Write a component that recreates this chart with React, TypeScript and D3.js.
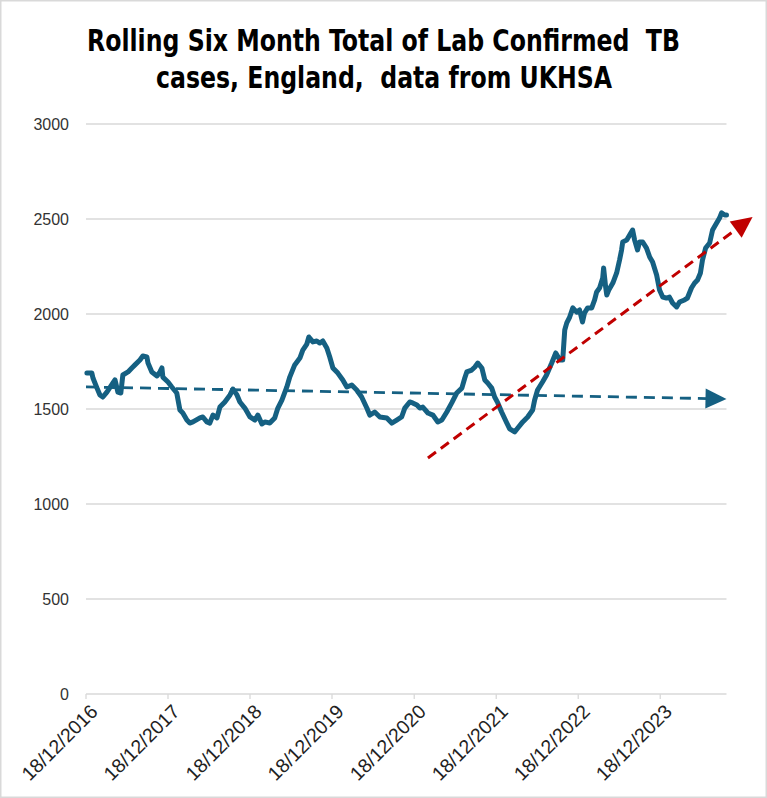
import React from "react";
import * as d3 from "d3";

const titleLines = ["Rolling Six Month Total of Lab Confirmed\u00a0\u00a0TB", "cases, England,\u00a0 data from UKHSA"];

const dates = [
  "2016-12-22","2017-01-13","2017-01-18","2017-02-05","2017-02-18","2017-03-03","2017-03-21","2017-04-17","2017-04-26","2017-05-09",
  "2017-05-22","2017-05-31","2017-06-23","2017-07-10","2017-07-24","2017-08-15","2017-08-28","2017-09-15","2017-09-20","2017-10-07",
  "2017-10-30","2017-11-12","2017-11-21","2017-11-25","2017-12-18","2018-01-04","2018-01-26","2018-02-09","2018-02-22","2018-03-12",
  "2018-03-25","2018-04-08","2018-05-09","2018-05-22","2018-06-09","2018-06-22","2018-07-06","2018-07-24","2018-08-06","2018-08-28",
  "2018-09-20","2018-10-03","2018-10-21","2018-11-03","2018-11-25","2018-12-18","2019-01-09","2019-01-22","2019-02-09","2019-02-22",
  "2019-03-16","2019-04-07","2019-04-21","2019-05-09","2019-05-31","2019-06-13","2019-07-05","2019-07-28","2019-08-10","2019-08-28",
  "2019-09-06","2019-09-24","2019-10-11","2019-10-25","2019-11-07","2019-11-25","2019-12-08","2019-12-22","2020-01-13","2020-02-04",
  "2020-02-22","2020-03-15","2020-04-06","2020-04-28","2020-05-21","2020-06-03","2020-06-25","2020-07-18","2020-08-18","2020-09-09",
  "2020-10-01","2020-10-23","2020-11-06","2020-11-28","2020-12-11","2020-12-30","2021-01-12","2021-01-25","2021-02-17","2021-03-11",
  "2021-04-02","2021-04-20","2021-05-12","2021-06-03","2021-06-25","2021-07-18","2021-07-31","2021-08-09","2021-08-31","2021-09-14",
  "2021-09-27","2021-10-15","2021-10-28","2021-11-10","2021-11-28","2021-12-11","2021-12-25","2022-01-11","2022-02-03","2022-02-16",
  "2022-03-10","2022-03-24","2022-04-15","2022-05-07","2022-05-29","2022-06-07","2022-06-20","2022-07-12","2022-07-30","2022-08-22",
  "2022-09-09","2022-09-27","2022-10-10","2022-10-19","2022-10-28","2022-11-10","2022-11-24","2022-12-11","2022-12-24","2023-01-06",
  "2023-01-15","2023-01-29","2023-02-16","2023-03-01","2023-03-10","2023-03-23","2023-04-06","2023-04-10","2023-04-19","2023-04-24",
  "2023-05-03","2023-05-21","2023-06-07","2023-06-20","2023-06-29","2023-07-04","2023-07-22","2023-08-04","2023-08-17","2023-08-26",
  "2023-09-08","2023-09-17","2023-10-01","2023-10-18","2023-11-01","2023-11-14","2023-12-02","2023-12-15","2023-12-29","2024-01-15",
  "2024-01-28","2024-02-11","2024-02-29","2024-03-13","2024-04-04","2024-04-17","2024-05-05","2024-05-19","2024-06-01","2024-06-14",
  "2024-06-23","2024-07-07","2024-07-25","2024-08-07","2024-08-25","2024-09-07","2024-09-16","2024-09-30","2024-10-08"
];

const values = [
  1689,1689,1663,1610,1574,1563,1589,1637,1653,1589,
  1584,1679,1695,1716,1732,1758,1779,1774,1742,1695,
  1674,1695,1716,1668,1642,1616,1584,1495,1479,1442,
  1426,1432,1453,1458,1432,1426,1468,1453,1510,1537,
  1574,1605,1574,1537,1505,1458,1442,1468,1421,1432,
  1426,1453,1505,1547,1616,1668,1732,1768,1810,1842,
  1879,1853,1858,1847,1858,1821,1774,1716,1689,1653,
  1616,1626,1600,1563,1505,1468,1484,1458,1453,1426,
  1442,1458,1505,1537,1532,1521,1505,1510,1479,1468,
  1432,1442,1484,1532,1584,1610,1663,1695,1705,1721,
  1742,1716,1653,1637,1610,1563,1532,1484,1426,1395,
  1379,1400,1432,1458,1495,1547,1600,1642,1679,1742,
  1795,1758,1758,1916,1953,1984,2032,2010,2021,1958,
  2005,2032,2032,2074,2116,2137,2189,2242,2142,2100,
  2126,2163,2216,2284,2337,2379,2389,2416,2442,2389,
  2337,2379,2379,2347,2300,2274,2205,2126,2089,2084,
  2089,2058,2037,2063,2074,2084,2137,2163,2179,2216,
  2284,2347,2374,2442,2479,2505,2532,2521,2521
];

const yTicks = [0, 500, 1000, 1500, 2000, 2500, 3000];
const xTickLabels = ["18/12/2016","18/12/2017","18/12/2018","18/12/2019","18/12/2020","18/12/2021","18/12/2022","18/12/2023"];
const xDomain = ["2016-12-18", "2024-10-08"];

const blueTrendDates = ["2016-12-18", "2024-10-08"];
const blueTrendValues = [1616, 1553];
const redTrendDates = ["2021-02-17", "2025-02-01"];
const redTrendValues = [1242, 2510];

const W = 767, H = 798;
const M = { left: 86, right: 767 - 726.5, top: 124, bottom: 798 - 694 };

const parse = d3.utcParse("%Y-%m-%d");
const parseTick = d3.utcParse("%d/%m/%Y");

function Arrow({ x1, y1, x2, y2, color, dash, width }: any) {
  const len = Math.hypot(x2 - x1, y2 - y1);
  const ux = (x2 - x1) / len, uy = (y2 - y1) / len;
  const hl = 21, hw = 10;
  const bx = x2 - ux * hl, by = y2 - uy * hl;
  const px = -uy, py = ux;
  const pts = [[x2, y2], [bx + px * hw, by + py * hw], [bx - px * hw, by - py * hw]];
  return (
    <g>
      <line x1={x1} y1={y1} x2={bx + ux * 2} y2={by + uy * 2} stroke={color} strokeWidth={width} strokeDasharray={dash} />
      <polygon points={pts.map(p => p.join(",")).join(" ")} fill={color} />
    </g>
  );
}

export default function App() {
  const x = d3.scaleUtc().domain(xDomain.map(d => parse(d)!)).range([M.left, W - M.right]);
  const y = d3.scaleLinear().domain([0, 3000]).range([H - M.bottom, M.top]);
  const data = dates.map((d, i) => ({ d: parse(d)!, v: values[i] }));
  const line = d3.line<any>().x(p => x(p.d)).y(p => y(p.v)).curve(d3.curveLinear);
  const xTicks = xTickLabels.map(t => parseTick(t)!);

  const blue = blueTrendDates.map((d, i) => [x(parse(d)!), y(blueTrendValues[i])]);
  const red = redTrendDates.map((d, i) => [x(parse(d)!), y(redTrendValues[i])]);

  return (
    <svg width={W} height={H} style={{ position: "absolute", left: 0, top: 0, background: "#fff" }}>
      <rect x={0.75} y={0.75} width={W - 1.5} height={H - 1.5} fill="#fff" stroke="#d9d9d9" strokeWidth={1.5} />
      <g fontFamily="'Liberation Sans Narrow', 'DejaVu Sans Condensed', 'Liberation Sans', sans-serif" fontWeight="bold" fontSize={30} fill="#000" textAnchor="middle">
        <text x={383.5} y={51} textLength={593} lengthAdjust="spacingAndGlyphs">{titleLines[0]}</text>
        <text x={384} y={88} textLength={456} lengthAdjust="spacingAndGlyphs">{titleLines[1]}</text>
      </g>
      {yTicks.map(t => (
        <g key={t}>
          {t > 0 && <line x1={M.left} x2={W - M.right} y1={y(t)} y2={y(t)} stroke="#d9d9d9" strokeWidth={1.3} />}
          <text x={69} y={y(t)} dy="0.35em" textAnchor="end" fontFamily="'Liberation Sans', Arial, sans-serif" fontSize={16} fill="#333">{t}</text>
        </g>
      ))}
      <line x1={M.left} x2={W - M.right} y1={y(0)} y2={y(0)} stroke="#d9d9d9" strokeWidth={1.3} />
      {xTicks.map((t, i) => (
        <g key={i} transform={`translate(${x(t)},${y(0)})`}>
          <line y1={0} y2={5} stroke="#d9d9d9" strokeWidth={1.3} />
          <text transform="translate(8,14) rotate(-45)" textAnchor="end" dy="0.35em" fontFamily="'Liberation Sans', Arial, sans-serif" fontSize={19.5} fill="#222">{xTickLabels[i]}</text>
        </g>
      ))}
      <path d={line(data)!} fill="none" stroke="#156082" strokeWidth={5} strokeLinejoin="round" strokeLinecap="round" />
      <Arrow x1={blue[0][0]} y1={blue[0][1]} x2={blue[1][0]} y2={blue[1][1]} color="#156082" dash="11,7" width={2.8} />
      <Arrow x1={red[0][0]} y1={red[0][1]} x2={red[1][0]} y2={red[1][1]} color="#c00000" dash="10,6" width={3} />
    </svg>
  );
}
